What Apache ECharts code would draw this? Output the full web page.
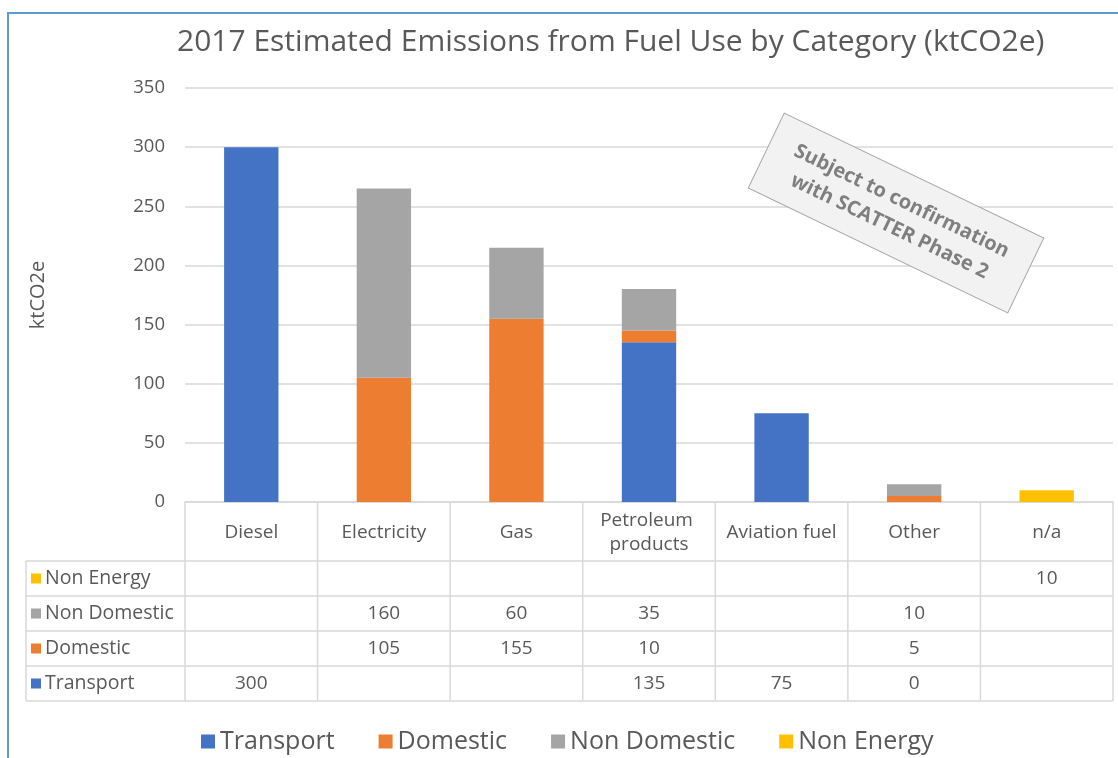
<!DOCTYPE html>
<html>
<head>
<meta charset="utf-8">
<script src="https://cdn.jsdelivr.net/npm/echarts@6/dist/echarts.min.js"></script>
<style>
  html, body { margin: 0; padding: 0; background: #fff; }
  #chart { width: 1118px; height: 758px; }
</style>
</head>
<body>
<div id="chart"></div>
<script>
// 燃料类别
const categories = ['Diesel', 'Electricity', 'Gas', 'Petroleum products', 'Aviation fuel', 'Other', 'n/a']

// 各类排放 (ktCO2e)
const transport = [300, null, null, 135, 75, 0, null]
const domestic = [null, 105, 155, 10, null, 5, null]
const nonDomestic = [null, 160, 60, 35, null, 10, null]
const nonEnergy = [null, null, null, null, null, null, 10]

const seriesNames = ['Transport', 'Domestic', 'Non Domestic', 'Non Energy']
const seriesColors = ['#4472C4', '#ED7D31', '#A5A5A5', '#FFC000']
const seriesData = [transport, domestic, nonDomestic, nonEnergy]

const titleText = '2017 Estimated Emissions from Fuel Use by Category (ktCO2e)'
const noteLines = ['Subject to confirmation', 'with SCATTER Phase 2']

const FONT = '"Open Sans", "Noto Sans", sans-serif'
const TEXT = '#595959'
const LINE = '#d9d9d9'

const chart = echarts.init(document.getElementById('chart'))

chart.setOption({
  animation: false,
  textStyle: { fontFamily: FONT },
  title: {
    text: titleText,
    left: 172,
    top: 22,
    textStyle: { fontFamily: FONT, fontSize: 30, fontWeight: 'normal', color: TEXT }
  },
  legend: {
    data: seriesNames,
    left: 196,
    top: 724,
    icon: 'rect',
    itemWidth: 14,
    itemHeight: 14,
    itemGap: 44,
    textStyle: { fontFamily: FONT, fontSize: 25, color: TEXT }
  },
  grid: {
    left: 185,
    right: 5,
    top: 88,
    bottom: 256,
    containLabel: false
  },
  xAxis: {
    type: 'category',
    data: categories,
    axisLine: { show: true, lineStyle: { color: LINE, width: 1.5 } },
    axisTick: { show: false },
    axisLabel: { show: false }
  },
  yAxis: {
    type: 'value',
    min: 0,
    max: 350,
    interval: 50,
    name: 'ktCO2e',
    nameLocation: 'middle',
    nameRotate: 90,
    nameGap: 137,
    nameTextStyle: { fontFamily: FONT, fontSize: 20, color: TEXT },
    axisLine: { show: false },
    axisTick: { show: false },
    axisLabel: { fontFamily: FONT, fontSize: 18.5, color: TEXT, margin: 20 },
    splitLine: { lineStyle: { color: LINE, width: 1.5 } }
  },
  series: seriesNames.map((name, i) => ({
    name: name,
    type: 'bar',
    stack: 'total',
    barWidth: '41%',
    data: seriesData[i],
    itemStyle: { color: seriesColors[i] }
  }))
})

// 数据表和注释
const drawExtras = () => {
  const colW = chart.convertToPixel({ xAxisIndex: 0 }, 1) - chart.convertToPixel({ xAxisIndex: 0 }, 0)
  const x0 = chart.convertToPixel({ xAxisIndex: 0 }, 0) - colW / 2
  const xEnd = x0 + colW * categories.length
  const y0 = chart.convertToPixel({ yAxisIndex: 0 }, 0)
  const headH = 59
  const rowH = 35
  const labelLeft = 26
  const tableBottom = y0 + headH + rowH * seriesNames.length
  const els = []
  const line = (x1, y1, x2, y2) => els.push({
    type: 'line',
    shape: { x1, y1, x2, y2 },
    style: { stroke: LINE, lineWidth: 1.5 },
    silent: true
  })

  // 竖线
  for (let i = 0; i <= categories.length; i++) {
    line(x0 + colW * i, y0, x0 + colW * i, tableBottom)
  }
  line(labelLeft, y0 + headH, labelLeft, tableBottom)
  // 横线
  for (let r = 0; r <= seriesNames.length; r++) {
    line(labelLeft, y0 + headH + rowH * r, xEnd, y0 + headH + rowH * r)
  }

  // 表头
  categories.forEach((c, i) => {
    els.push({
      type: 'text',
      x: x0 + colW * (i + 0.5),
      y: y0 + headH / 2 + 1,
      style: {
        text: c,
        width: colW - 6,
        overflow: 'break',
        align: 'center',
        verticalAlign: 'middle',
        fontFamily: FONT,
        fontSize: 19,
        lineHeight: 24,
        fill: TEXT
      }
    })
  })

  // 表格行（从上到下为反向顺序）
  const rowOrder = [3, 2, 1, 0]
  rowOrder.forEach((s, r) => {
    const cy = y0 + headH + rowH * r + rowH / 2
    els.push({
      type: 'rect',
      shape: { x: labelLeft + 5, y: cy - 5, width: 10, height: 10 },
      style: { fill: seriesColors[s] }
    })
    els.push({
      type: 'text',
      x: labelLeft + 19,
      y: cy,
      style: {
        text: seriesNames[s],
        align: 'left',
        verticalAlign: 'middle',
        fontFamily: FONT,
        fontSize: 19.5,
        fill: TEXT
      }
    })
    seriesData[s].forEach((v, i) => {
      if (v === null) return
      els.push({
        type: 'text',
        x: x0 + colW * (i + 0.5),
        y: cy,
        style: {
          text: String(v),
          align: 'center',
          verticalAlign: 'middle',
          fontFamily: FONT,
          fontSize: 19,
          fill: TEXT
        }
      })
    })
  })

  // 外框（左、上）
  els.push({
    type: 'polyline',
    shape: { points: [[8, 758], [8, 13], [1118, 13]] },
    style: { stroke: '#5B9BD5', lineWidth: 2, fill: null },
    silent: true
  })

  // 旋转的注释框
  els.push({
    type: 'group',
    x: 896,
    y: 213,
    rotation: -25.7 * Math.PI / 180,
    children: [
      {
        type: 'rect',
        shape: { x: -144, y: -41.5, width: 288, height: 83 },
        style: { fill: '#f2f2f2', stroke: '#a6a6a6', lineWidth: 1 }
      },
      {
        type: 'text',
        x: 0,
        y: 1,
        style: {
          text: noteLines.join('\n'),
          align: 'center',
          verticalAlign: 'middle',
          fontFamily: FONT,
          fontSize: 20,
          fontWeight: 'bold',
          lineHeight: 28,
          fill: '#7f7f7f'
        }
      }
    ]
  })

  chart.setOption({ graphic: { elements: els } })
}

drawExtras()
</script>
</body>
</html>
